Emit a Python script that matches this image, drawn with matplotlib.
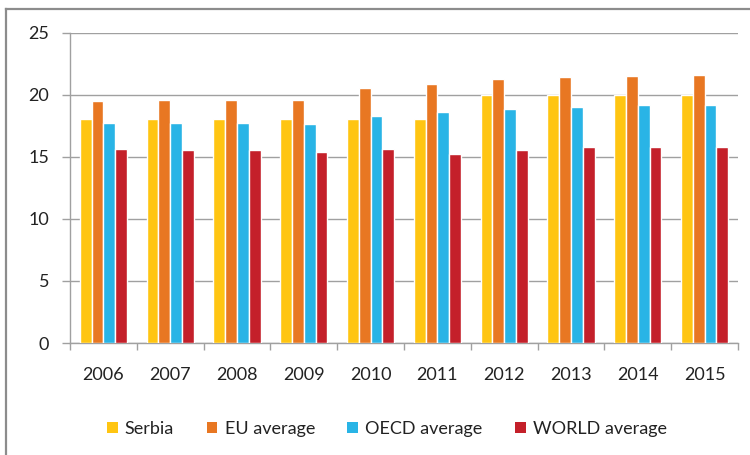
import matplotlib
matplotlib.use("Agg")
import matplotlib.pyplot as plt
import numpy as np
from matplotlib.lines import Line2D
from matplotlib.patches import Patch

years = ["2006", "2007", "2008", "2009", "2010", "2011", "2012", "2013", "2014", "2015"]
serbia = [18, 18, 18, 18, 18, 18, 20, 20, 20, 20]
eu_avg = [19.5, 19.55, 19.55, 19.55, 20.5, 20.85, 21.25, 21.4, 21.5, 21.55]
oecd_avg = [17.7, 17.75, 17.7, 17.6, 18.25, 18.6, 18.85, 19.0, 19.15, 19.15]
world_avg = [15.65, 15.55, 15.5, 15.35, 15.65, 15.25, 15.5, 15.75, 15.8, 15.75]
series_names = ["Serbia", "EU average", "OECD average", "WORLD average"]
colors = ["#FFC512", "#E87722", "#29B4E6", "#C4202A"]

plt.rcParams['font.family'] = ['Lato', 'DejaVu Sans']
fig = plt.figure(figsize=(7.5, 4.55), dpi=100)
ax = fig.add_axes([70/750, 1-343/455, (738-70)/750, (343-32.5)/455])

x = np.arange(len(years))
w = 0.176
data = [serbia, eu_avg, oecd_avg, world_avg]
for i, (vals, c) in enumerate(zip(data, colors)):
    ax.bar(x + (i - 1.5) * w, vals, width=w, color=c, edgecolor="white", linewidth=1.0, zorder=3)

ax.set_xlim(-0.5, len(years) - 0.5)
ax.set_ylim(0, 25)
ax.set_yticks([0, 5, 10, 15, 20, 25])
ax.yaxis.grid(True, color="#A0A0A0", linewidth=1.0, zorder=0)
ax.set_axisbelow(True)

ax.set_xticks(np.arange(len(years) + 1) - 0.5)
ax.set_xticklabels([])
ax.set_xticks(x, minor=True)
ax.set_xticklabels(years, minor=True, fontsize=13, color="#222222")
ax.tick_params(axis="x", which="major", length=5, color="#A0A0A0", width=1)
ax.tick_params(axis="x", which="minor", length=0, pad=17)
ax.tick_params(axis="y", length=6, color="#A0A0A0", width=1, pad=9, labelsize=13, labelcolor="#222222")

for s in ["top", "right"]:
    ax.spines[s].set_visible(False)
for s in ["left", "bottom"]:
    ax.spines[s].set_color("#A0A0A0")
    ax.spines[s].set_linewidth(1.0)

handles = [Patch(facecolor=c, edgecolor="none") for c in colors]
fig.legend(handles, series_names, loc="center", bbox_to_anchor=(387/750, 1-429/455), ncol=4,
           frameon=False, fontsize=13, handlelength=0.6, handleheight=0.6, handletextpad=0.4,
           columnspacing=1.8, labelcolor="#222222")

fig.add_artist(Line2D([6/750, 6/750], [0, 1-9/455], color="#8C8C8C", linewidth=1.6))
fig.add_artist(Line2D([6/750, 1], [1-9/455, 1-9/455], color="#8C8C8C", linewidth=1.6))

fig.savefig("out.png", dpi=100)
